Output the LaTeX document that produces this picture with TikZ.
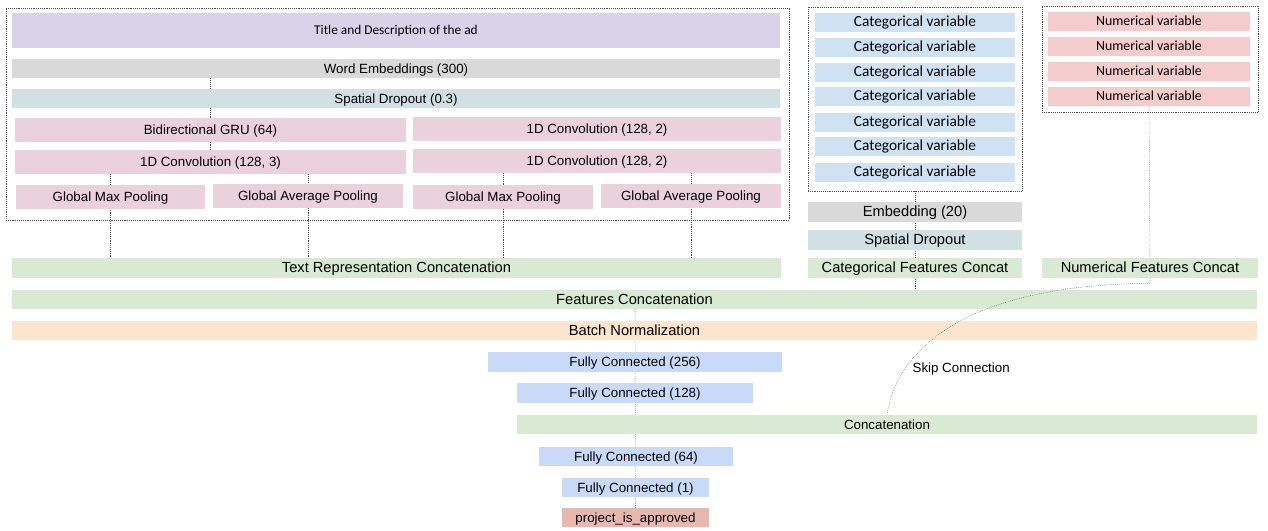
\documentclass[tikz,border=0pt]{standalone}
\usepackage{fontspec}
\setmainfont{Liberation Sans}
\newfontfamily\calibri{Carlito}
\usetikzlibrary{fit,calc,positioning}
\definecolor{titleColor}{HTML}{D9D2E9}
\definecolor{embedColor}{HTML}{D9D9D9}
\definecolor{dropoutColor}{HTML}{D0E0E3}
\definecolor{convColor}{HTML}{EAD1DC}
\definecolor{concatColor}{HTML}{D9EAD3}
\definecolor{catColor}{HTML}{CFE2F3}
\definecolor{numColor}{HTML}{F4CCCC}
\definecolor{normColor}{HTML}{FCE5CD}
\definecolor{denseColor}{HTML}{C9DAF8}
\definecolor{outputColor}{HTML}{E6B8AF}
\tikzset{boxsize/.style 2 args={minimum width=#1*0.75pt, minimum height=#2*0.75pt}}
\tikzset{layer/.style={draw=none, inner sep=0pt, align=center, text height=0.72em, text depth=0pt, font=\fontsize{10}{12}\selectfont}}
\tikzset{biglayer/.style={layer, font=\fontsize{11}{13}\selectfont}}
\tikzset{catvar/.style={layer, fill=catColor, boxsize={200}{19}, text height=0.66em, font=\calibri\fontsize{11.5}{13}\selectfont}}
\tikzset{numvar/.style={layer, fill=numColor, boxsize={202}{19}, text height=0.66em, font=\calibri\fontsize{10.4}{12}\selectfont}}
\tikzset{group/.style={draw=black!70, densely dotted, inner sep=0pt}}
\tikzset{link/.style={draw=black!70, densely dotted, thin}}

\begin{document}
\begin{tikzpicture}[x=0.75pt, y=-0.75pt]
\pgfdeclarelayer{background}
\pgfsetlayers{background,main}
\useasboundingbox (0,0) rectangle (1268,531);

% Text branch
\node (TextGroup) [group, fit={(6,8) (789,220)}] {};
\node (TitleDesc) [layer, fill=titleColor, boxsize={768}{35}, text height=0.66em, font=\calibri\fontsize{10}{12}\selectfont] at (396,30.5) {Title and Description of the ad};
\node (WordEmbeddings) [layer, fill=embedColor, boxsize={768}{19}] at (396,68.5) {Word Embeddings (300)};
\node (TextDropout) [layer, fill=dropoutColor, boxsize={768}{19}] at (396,98.5) {Spatial Dropout (0.3)};
\node (BiGRU) [layer, fill=convColor, boxsize={391}{24}] at (210.5,130) {Bidirectional GRU (64)};
\node (ConvA) [layer, fill=convColor, boxsize={391}{24}] at (210.5,162) {1D Convolution (128, 3)};
\node (ConvB) [layer, fill=convColor, boxsize={368}{24}] at (597,129) {1D Convolution (128, 2)};
\node (ConvC) [layer, fill=convColor, boxsize={368}{24}] at (597,161) {1D Convolution (128, 2)};
\node (MaxPoolA) [layer, fill=convColor, boxsize={189}{24}] at (110.5,197) {Global Max Pooling};
\node (AvgPoolA) [layer, fill=convColor, boxsize={190}{24}] at (308,196) {Global Average Pooling};
\node (MaxPoolB) [layer, fill=convColor, boxsize={180}{24}] at (503,197) {Global Max Pooling};
\node (AvgPoolB) [layer, fill=convColor, boxsize={180}{24}] at (691,196) {Global Average Pooling};
\node (TextConcat) [biglayer, fill=concatColor, boxsize={769}{20}] at (396.5,268) {Text Representation Concatenation};

% Categorical branch
\node (CatGroup) [group, fit={(808,7) (1022,191)}] {};
\foreach \i/\y in {1/22.5, 2/47.5, 3/72.5, 4/96.5, 5/122.5, 6/146.5, 7/172.5}
  \node (CatVar\i) [catvar] at (915,\y) {Categorical variable};
\node (CatEmbedding) [biglayer, fill=embedColor, boxsize={214}{20}] at (915,212) {Embedding (20)};
\node (CatDropout) [biglayer, fill=dropoutColor, boxsize={214}{20}] at (915,240) {Spatial Dropout};
\node (CatConcat) [biglayer, fill=concatColor, boxsize={214}{20}] at (915,268) {Categorical Features Concat};

% Numerical branch
\node (NumGroup) [group, fit={(1042,6) (1258,112)}] {};
\foreach \i/\y in {1/21.5, 2/46.5, 3/71.5, 4/96.5}
  \node (NumVar\i) [numvar] at (1149,\y) {Numerical variable};
\node (NumConcat) [biglayer, fill=concatColor, boxsize={216}{20}] at (1150,268) {Numerical Features Concat};

% Head
\node (FeaturesConcat) [biglayer, fill=concatColor, boxsize={1245}{19}] at (634.5,299.5) {Features Concatenation};
\node (BatchNorm) [biglayer, fill=normColor, boxsize={1245}{19}] at (634.5,330.5) {Batch Normalization};
\node (Dense256) [layer, fill=denseColor, boxsize={294}{20}] at (635,362) {Fully Connected (256)};
\node (Dense128) [layer, fill=denseColor, boxsize={236}{20}] at (635,393) {Fully Connected (128)};
\node (Concatenation) [layer, fill=concatColor, boxsize={740}{19}] at (887,424.5) {Concatenation};
\node (Dense64) [layer, fill=denseColor, boxsize={194}{19}] at (636,456.5) {Fully Connected (64)};
\node (Dense1) [layer, fill=denseColor, boxsize={147}{19}] at (635.5,487.5) {Fully Connected (1)};
\node (Output) [layer, fill=outputColor, boxsize={147}{19}] at (635.5,517.5) {project\_is\_approved};

% Connectors
\begin{pgfonlayer}{background}
\draw [link] (WordEmbeddings.south -| BiGRU) -- (ConvA.north);
\draw [link] (ConvA.south -| MaxPoolA) -- (MaxPoolA |- TextConcat.north);
\draw [link] (ConvA.south -| AvgPoolA) -- (AvgPoolA |- TextConcat.north);
\draw [link] (ConvC.south -| MaxPoolB) -- (MaxPoolB |- TextConcat.north);
\draw [link] (ConvC.south -| AvgPoolB) -- (AvgPoolB |- TextConcat.north);
\draw [link] (CatGroup.south) -- (CatGroup.south |- FeaturesConcat.north);
\draw [link] (NumVar4.south) -- (NumConcat.north);
\draw [link] (FeaturesConcat.south -| Dense256) -- (Output.north);
\end{pgfonlayer}

\draw [link] (NumConcat.south) -- ++(0,5) .. controls (950,285) and (895,360) .. (Concatenation.north) node [pos=0.75, anchor=west, inner sep=0pt, xshift=6.75pt, yshift=1.5pt, font=\fontsize{10}{12}\selectfont] {Skip Connection};

\end{tikzpicture}
\end{document}
